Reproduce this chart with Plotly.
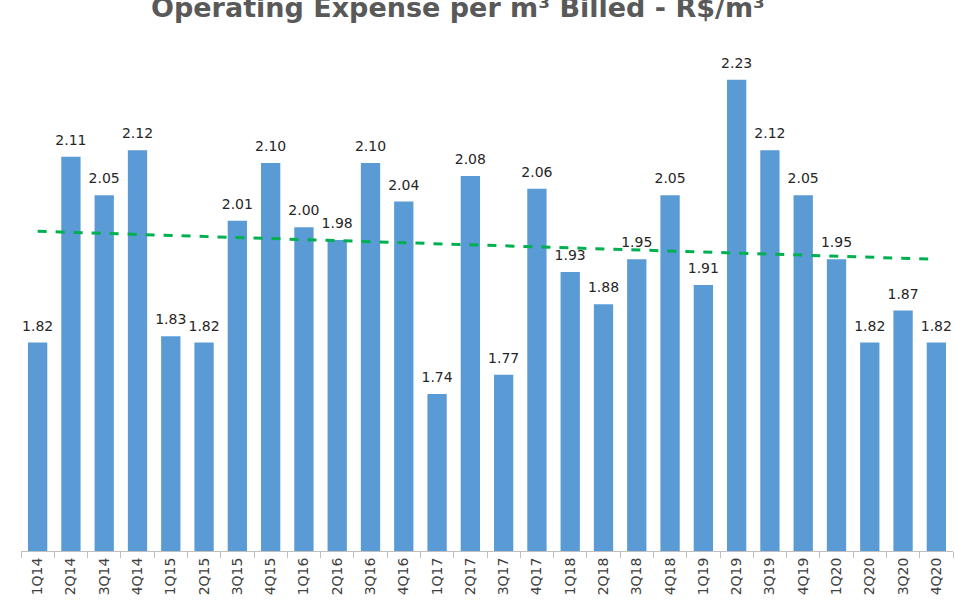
import numpy as np
import plotly.graph_objects as go

quarters = ["1Q14","2Q14","3Q14","4Q14","1Q15","2Q15","3Q15","4Q15","1Q16","2Q16",
            "3Q16","4Q16","1Q17","2Q17","3Q17","4Q17","1Q18","2Q18","3Q18","4Q18",
            "1Q19","2Q19","3Q19","4Q19","1Q20","2Q20","3Q20","4Q20"]
opex_per_m3 = [1.82,2.11,2.05,2.12,1.83,1.82,2.01,2.10,2.00,1.98,
               2.10,2.04,1.74,2.08,1.77,2.06,1.93,1.88,1.95,2.05,
               1.91,2.23,2.12,2.05,1.95,1.82,1.87,1.82]
title_text = "Operating Expense per m³ Billed - R$/m³"

idx = np.arange(len(opex_per_m3))
slope, intercept = np.polyfit(idx, opex_per_m3, 1)
trend = slope * idx + intercept

fig = go.Figure()
fig.add_trace(go.Bar(
    x=quarters, y=opex_per_m3,
    marker=dict(color="#5b9bd5", line=dict(color="#5b9bd5", width=0)),
    showlegend=False, hoverinfo="x+y",
))
fig.add_trace(go.Scatter(
    x=quarters, y=trend, mode="lines",
    line=dict(color="#00b050", width=3, dash="dash"),
    showlegend=False, hoverinfo="skip",
))
fig.add_trace(go.Scatter(
    x=quarters, y=opex_per_m3, mode="markers+text",
    marker=dict(size=12, color="rgba(0,0,0,0)"),
    text=[f"{v:.2f}" for v in opex_per_m3],
    textposition="top center",
    textfont=dict(family="DejaVu Sans", size=14, color="#262626"),
    cliponaxis=False,
    showlegend=False, hoverinfo="skip",
))

fig.add_annotation(
    text=title_text, showarrow=False,
    xref="paper", yref="paper", x=0.469, y=1, xanchor="center", yanchor="bottom",
    yshift=-19,
    font=dict(family="DejaVu Sans", size=27, color="#595959", weight="bold"),
)

fig.update_layout(
    width=955, height=614,
    margin=dict(l=21, r=2, t=6, b=63),
    paper_bgcolor="white", plot_bgcolor="white",
    bargap=0.42,
    xaxis=dict(
        type="category", range=[-0.5, len(quarters) - 0.5],
        showline=True, linecolor="#bfbfbf", linewidth=1,
        ticks="outside", tickson="boundaries", ticklen=6, tickcolor="#bfbfbf",
        tickangle=-90,
        tickfont=dict(family="DejaVu Sans", size=14, color="#404040"),
        showgrid=False, zeroline=False,
    ),
    yaxis=dict(
        range=[1.495, 2.345], visible=False, showgrid=False, zeroline=False,
    ),
)

fig.write_html("out.html", config={"displayModeBar": False},
               post_script="document.body.style.margin='0';")
